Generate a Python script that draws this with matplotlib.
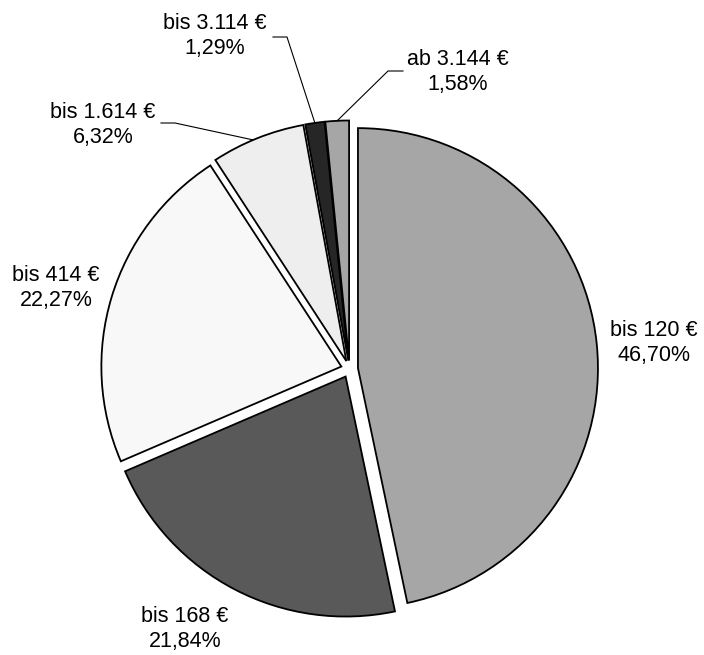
import numpy as np
import matplotlib.pyplot as plt

plt.rcParams['font.family'] = ['Liberation Sans', 'DejaVu Sans']

labels = ['bis 120 €', 'bis 168 €', 'bis 414 €', 'bis 1.614 €', 'bis 3.114 €', 'ab 3.144 €']
values = [46.70, 21.84, 22.27, 6.32, 1.29, 1.58]
colors = ['#a6a6a6', '#595959', '#f8f8f8', '#eeeeee', '#262626', '#a6a6a6']

H = 655
fig = plt.figure(figsize=(7.04, 6.55), dpi=100)
ax = fig.add_axes([0, 0, 1, 1])

cx, cy, r, e = 349.5, H - 369, 240, 8.5
wedges, _ = ax.pie(values, colors=colors, startangle=90, counterclock=False,
                   center=(cx, cy), radius=r, explode=[e] * len(values),
                   wedgeprops=dict(edgecolor='black', linewidth=1.3),
                   frame=True)
ax.set_xlim(0, 704)
ax.set_ylim(0, H)
ax.axis('off')

def fmt(v):
    return ('%.2f%%' % v).replace('.', ',')

# label centres in pixels (x, y from top)
pos = [(654, 343), (185, 629), (56, 288), (103, 125), (215, 36), (458, 72)]
for w, lab, v, (px, py) in zip(wedges, labels, values, pos):
    ax.text(px, H - py, lab + '\n' + fmt(v), ha='center', va='center',
            fontsize=15.5, linespacing=1.3)

# leader lines for the small slices
def edge_point(w, frac=0.5):
    t = np.deg2rad(w.theta1 + (w.theta2 - w.theta1) * frac)
    x0, y0 = w.center
    return x0 + w.r * np.cos(t), y0 + w.r * np.sin(t)

leaders = [(3, [(161, 123), (175, 123)], 0.55),
           (4, [(273, 37), (287, 37)], 0.5),
           (5, [(403, 71), (388, 71)], 0.5)]
for i, pts, f in leaders:
    ex, ey = edge_point(wedges[i], f)
    xs = [p[0] for p in pts] + [ex]
    ys = [H - p[1] for p in pts] + [ey]
    ax.plot(xs, ys, color='black', linewidth=0.8)

fig.savefig('out.png', dpi=100, facecolor='white')
